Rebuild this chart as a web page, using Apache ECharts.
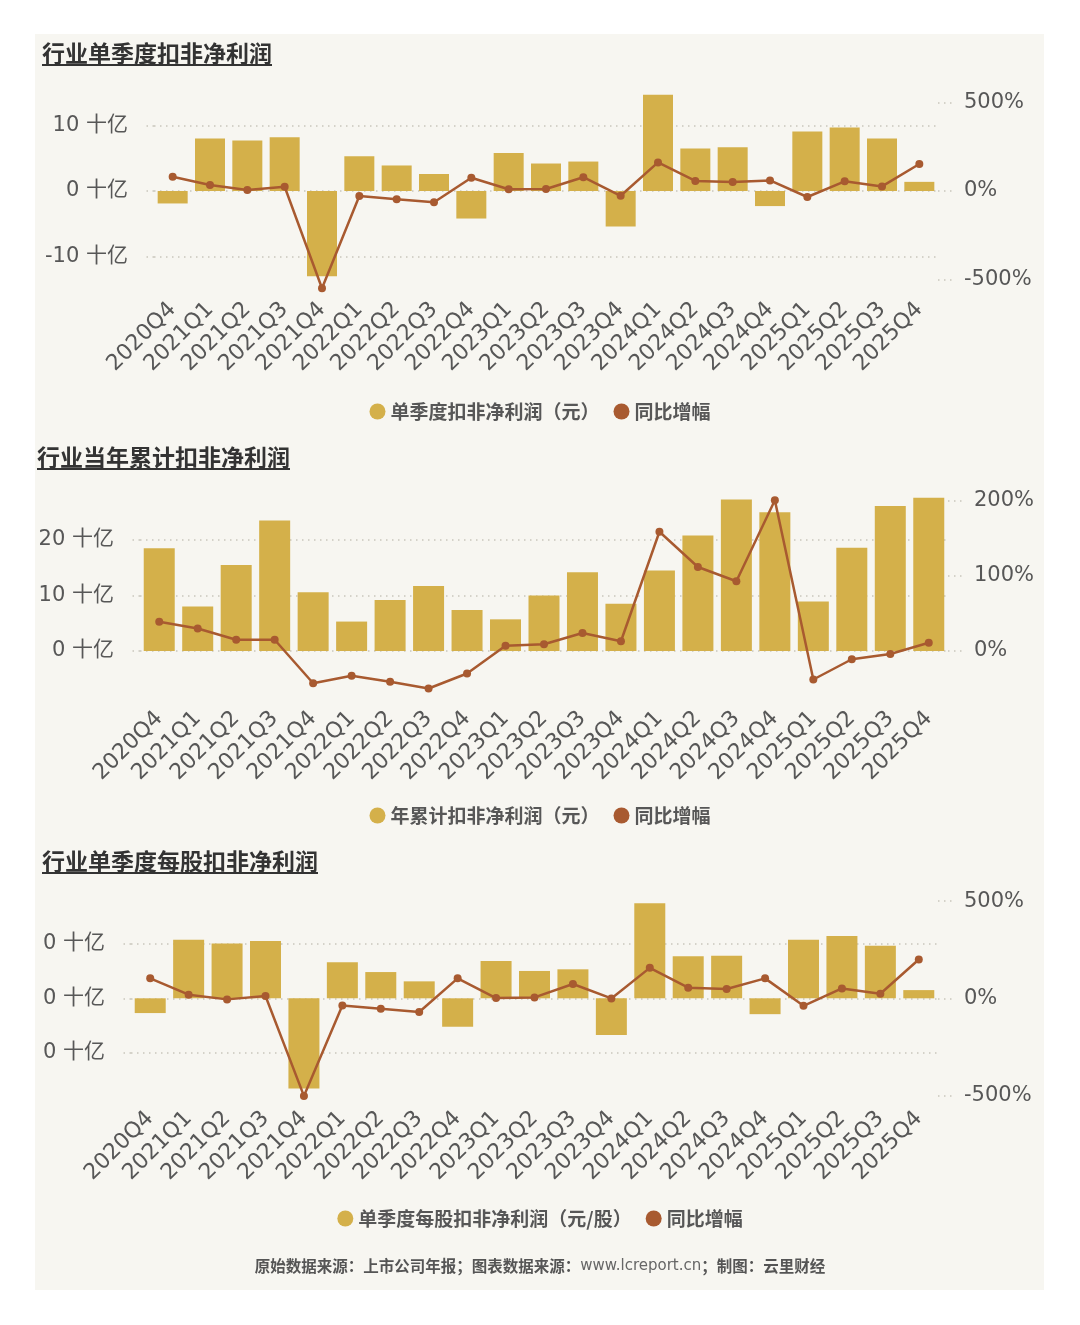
<!DOCTYPE html>
<html>
<head>
<meta charset="utf-8">
<title>行业扣非净利润</title>
<script src="https://cdn.jsdelivr.net/npm/echarts@6/dist/echarts.min.js"></script>
<style>
html, body { margin: 0; padding: 0; background: #fff; }
#chart { width: 1080px; height: 1325px; }
</style>
</head>
<body>
<div id="chart"></div>
<script>
// 季度
var categories = ['2020Q4', '2021Q1', '2021Q2', '2021Q3', '2021Q4', '2022Q1', '2022Q2',
  '2022Q3', '2022Q4', '2023Q1', '2023Q2', '2023Q3', '2023Q4', '2024Q1', '2024Q2',
  '2024Q3', '2024Q4', '2025Q1', '2025Q2', '2025Q3', '2025Q4'];

// 单季度扣非净利润（十亿元）及同比（%）
var quarterProfit = [-1.9, 8.0, 7.7, 8.2, -13.0, 5.3, 3.9, 2.6, -4.2, 5.8, 4.2,
  4.5, -5.4, 14.7, 6.5, 6.7, -2.3, 9.1, 9.7, 8.0, 1.4];
var quarterYoY = [81, 34, 6, 24, -551, -28, -47, -64, 75, 10, 11,
  78, -27, 162, 57, 51, 60, -34, 55, 26, 153];

// 当年累计扣非净利润（十亿元）及同比（%）
var ytdProfit = [18.5, 8.0, 15.5, 23.5, 10.6, 5.3, 9.2, 11.7, 7.4, 5.7, 10.0,
  14.2, 8.5, 14.5, 20.8, 27.3, 25.0, 8.9, 18.6, 26.1, 27.6];
var ytdYoY = [39, 30, 15, 15, -43, -33, -41, -50, -30, 7, 9,
  24, 13, 159, 112, 93, 201, -38, -11, -4, 11];

// 单季度每股扣非净利润（元/股）及同比（%）
var quarterEps = [-0.027, 0.107, 0.100, 0.105, -0.165, 0.066, 0.048, 0.031, -0.052, 0.068, 0.050,
  0.053, -0.067, 0.174, 0.077, 0.078, -0.029, 0.107, 0.114, 0.096, 0.015];
var quarterEpsYoY = [103, 19, -5, 12, -501, -36, -53, -70, 103, 2, 5,
  74, 0, 157, 55, 48, 103, -38, 51, 24, 200];

// 刻度
var leftTicks1 = [-10, 0, 10];
var rightTicks1 = [-500, 0, 500];
var leftTicks2 = [0, 10, 20];
var rightTicks2 = [0, 100, 200];
var leftTicks3 = [-0.1, 0, 0.1];
var rightTicks3 = [-500, 0, 500];

var YELLOW = '#D4B04A', BROWN = '#A85A30', TEXT = '#575757';
var FONT = '"DejaVu Sans", "Noto Sans CJK SC", sans-serif';
var CJK = '"Noto Sans CJK SC", sans-serif';
var dotted = { color: '#c9c6bc', width: 1.5, type: [1.5, 4.5] };

var grids = [], xAxes = [], yAxes = [], series = [], legends = [];

//添加一个面板：网格、双y轴、柱和线
function addPanel(cfg) {
  var i = grids.length;
  grids.push(cfg.grid);
  xAxes.push({
    gridIndex: i, type: 'category', data: categories,
    axisLine: { show: false }, axisTick: { show: false },
    axisLabel: { rotate: 45, margin: 10, interval: 0, fontSize: 22, color: TEXT, fontFamily: FONT }
  });
  yAxes.push({
    gridIndex: i, type: 'value', position: 'left', min: cfg.leftMin, max: cfg.leftMax,
    axisLine: { show: false },
    axisTick: { show: true, length: 12, lineStyle: dotted, customValues: cfg.leftTicks },
    splitLine: { show: true, lineStyle: dotted },
    axisLabel: { customValues: cfg.leftTicks, margin: 26, fontSize: 21, color: TEXT, fontFamily: FONT,
      formatter: cfg.leftFormat }
  });
  yAxes.push({
    gridIndex: i, type: 'value', position: 'right', min: cfg.rightMin, max: cfg.rightMax,
    axisLine: { show: false },
    axisTick: { show: true, length: 16, lineStyle: dotted, customValues: cfg.rightTicks },
    splitLine: { show: false },
    axisLabel: { customValues: cfg.rightTicks, margin: 26, fontSize: 21, color: TEXT, fontFamily: FONT,
      formatter: function (v) { return v + '%'; } }
  });
  series.push({
    name: cfg.barName, type: 'bar', xAxisIndex: i, yAxisIndex: 2 * i,
    data: cfg.bars, barWidth: cfg.barWidth, itemStyle: { color: YELLOW }
  });
  series.push({
    name: '同比增幅', type: 'line', xAxisIndex: i, yAxisIndex: 2 * i + 1,
    data: cfg.line, symbol: 'circle', symbolSize: 8, z: 5,
    itemStyle: { color: BROWN }, lineStyle: { color: BROWN, width: 2.5 }
  });
  legends.push({
    top: cfg.legendTop, left: 'center', data: [cfg.barName, '同比增幅'],
    icon: 'circle', itemWidth: 16, itemHeight: 16, itemGap: 14,
    textStyle: { fontSize: 19, fontWeight: 'bold', color: TEXT, fontFamily: CJK }
  });
}

function title(text, x, y) {
  return [
    { type: 'text', x: x, y: y, style: { text: text, fill: '#333', fontSize: 23, fontWeight: 'bold',
      fontFamily: CJK, verticalAlign: 'middle' } },
    { type: 'rect', shape: { x: x, y: y + 11, width: text.length * 23, height: 2 }, style: { fill: '#333' } }
  ];
}

addPanel({
  grid: { left: 154, right: 142, top: 88, bottom: 1029 },
  leftMin: -16.03, leftMax: 15.73, rightMin: -594.6, rightMax: 583.2,
  leftTicks: leftTicks1, rightTicks: rightTicks1,
  leftFormat: function (v) { return v + ' 十亿'; },
  barName: '单季度扣非净利润（元）', bars: quarterProfit, line: quarterYoY,
  barWidth: 30, legendTop: 397
});
addPanel({
  grid: { left: 140, right: 132, top: 490, bottom: 620 },
  leftMin: -9.73, leftMax: 29.0, rightMin: -72, rightMax: 214.7,
  leftTicks: leftTicks2, rightTicks: rightTicks2,
  leftFormat: function (v) { return v + ' 十亿'; },
  barName: '年累计扣非净利润（元）', bars: ytdProfit, line: ytdYoY,
  barWidth: 31, legendTop: 801
});
addPanel({
  grid: { left: 131, right: 142, top: 895, bottom: 220 },
  leftMin: -0.1951, leftMax: 0.1889, rightMin: -547.8, rightMax: 531.4,
  leftTicks: leftTicks3, rightTicks: rightTicks3,
  leftFormat: function (v) { return Math.round(v / 1e9) + ' 十亿'; },
  barName: '单季度每股扣非净利润（元/股）', bars: quarterEps, line: quarterEpsYoY,
  barWidth: 31, legendTop: 1204
});

var graphics = [
  { type: 'rect', z: -100, silent: true, shape: { x: 35, y: 34, width: 1009, height: 1256 },
    style: { fill: '#f7f6f1' } }
].concat(
  title('行业单季度扣非净利润', 42, 53),
  title('行业当年累计扣非净利润', 37, 457),
  title('行业单季度每股扣非净利润', 42, 861),
  [{
    type: 'text', x: 540, y: 1266,
    style: {
      text: '{b|原始数据来源：上市公司年报；图表数据来源：}{n|www.lcreport.cn}{b|；制图：云里财经}',
      align: 'center', verticalAlign: 'middle',
      rich: {
        b: { fontSize: 15.5, fontWeight: 'bold', fontFamily: CJK, fill: '#555' },
        n: { fontSize: 15, fontFamily: '"DejaVu Sans", sans-serif', fill: '#666' }
      }
    }
  }]
);

var chart = echarts.init(document.getElementById('chart'));
chart.setOption({
  backgroundColor: '#fff',
  animation: false,
  grid: grids,
  xAxis: xAxes,
  yAxis: yAxes,
  legend: legends,
  series: series,
  graphic: graphics
});
</script>
</body>
</html>
